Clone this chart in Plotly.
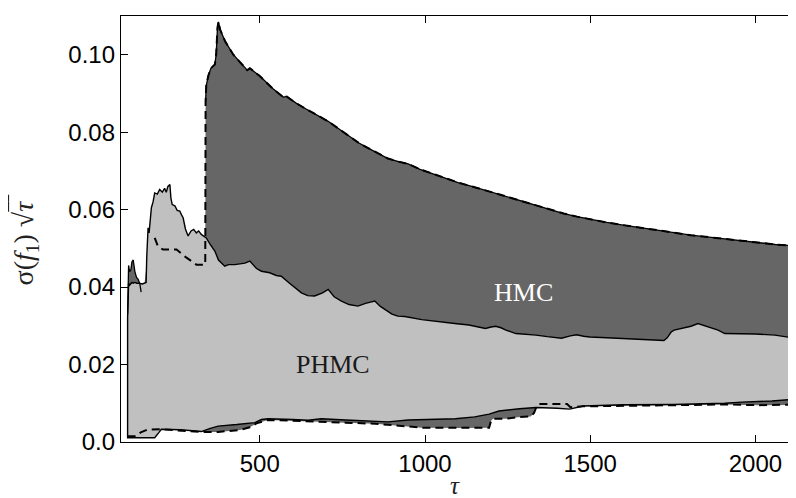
import plotly.graph_objects as go

# ---------------- data ----------------
x_tick_vals = [500, 1000, 1500, 2000]
x_tick_text = ["500", "1000", "1500", "2000"]
y_tick_vals = [0.0, 0.02, 0.04, 0.06, 0.08, 0.10]
y_tick_text = ["0.0", "0.02", "0.04", "0.06", "0.08", "0.10"]

# HMC upper bound, early solid piece
hmc_early_tau = [100, 101, 103, 106, 110, 113, 117, 122, 127, 132, 137, 141]
hmc_early_val = [0.0330, 0.0440, 0.0456, 0.0440, 0.0445, 0.0465, 0.0470, 0.0440, 0.0425, 0.0420, 0.0408, 0.0387]

# HMC upper bound, dashed piece before the jump
hmc_dash_early_tau = [141, 150, 158, 165, 175, 182, 192, 207, 230, 248, 275, 308, 334]
hmc_dash_early_val = [0.0387, 0.0400, 0.0460, 0.0520, 0.0550, 0.0527, 0.0505, 0.0497, 0.0497, 0.0497, 0.0478, 0.0458, 0.0458]

# HMC upper bound after the jump (solid and dashed nearly coincide)
hmc_up_tau = [335, 336, 338, 344, 352, 364, 368, 372, 375, 380, 395, 420, 445, 462, 470,
              500, 540, 572, 580, 610, 640, 675, 707, 740, 770, 800, 828, 860, 888, 920,
              949, 985, 1021, 1060, 1100, 1150, 1194, 1230, 1270, 1310, 1347, 1385, 1420,
              1460, 1504, 1550, 1600, 1640, 1683, 1740, 1805, 1880, 1958, 2010, 2060, 2110, 2147]
hmc_up_val = [0.0458, 0.0880, 0.0920, 0.0945, 0.0965, 0.0975, 0.1000, 0.1070, 0.1085, 0.1065,
              0.1035, 0.1000, 0.0975, 0.0960, 0.0965, 0.0945, 0.0912, 0.0890, 0.0893, 0.0875,
              0.0860, 0.0843, 0.0828, 0.0808, 0.0790, 0.0772, 0.0759, 0.0745, 0.0732, 0.0724,
              0.0718, 0.0704, 0.0693, 0.0682, 0.0670, 0.0658, 0.0647, 0.0637, 0.0627, 0.0617,
              0.0608, 0.0598, 0.0590, 0.0582, 0.0574, 0.0567, 0.0560, 0.0555, 0.0549, 0.0541,
              0.0534, 0.0527, 0.0519, 0.0514, 0.0510, 0.0507, 0.0505]

# HMC lower bound (dashed)
hmc_low_tau = [100, 125, 140, 160, 200, 260, 320, 374, 440, 470, 490, 525, 646, 760, 850, 888,
               950, 990, 1100, 1194, 1200, 1206, 1245, 1280, 1320, 1330, 1336, 1345, 1430, 1440,
               1479, 1601, 1750, 1907, 2009, 2080, 2147]
hmc_low_val = [0.0015, 0.0015, 0.0025, 0.0032, 0.0033, 0.0030, 0.0026, 0.0026, 0.0031, 0.0038,
               0.0048, 0.0057, 0.0054, 0.0050, 0.0047, 0.0045, 0.0040, 0.0037, 0.0036, 0.0037,
               0.0055, 0.0060, 0.0060, 0.0064, 0.0066, 0.0075, 0.0088, 0.0098, 0.0098, 0.0090,
               0.0092, 0.0094, 0.0095, 0.0097, 0.0095, 0.0096, 0.0096]

# PHMC upper bound (solid)
phmc_up_tau = [100, 101, 103, 106, 110, 113, 117, 122, 128, 135, 145, 152, 156, 158, 162, 165,
               168, 172, 177, 182, 190, 197, 205, 212, 217, 222, 228, 231, 235, 243, 250, 258,
               264, 268, 275, 283, 292, 300, 308, 315, 323, 338, 350, 364, 375, 385, 394, 405,
               424, 440, 455, 470, 490, 505, 530, 550, 565, 590, 610, 626, 645, 666, 690, 707,
               725, 747, 770, 797, 820, 848, 865, 878, 900, 918, 939, 990, 1041, 1090, 1133,
               1160, 1183, 1200, 1214, 1230, 1245, 1275, 1300, 1336, 1370, 1398, 1413, 1440,
               1459, 1480, 1499, 1550, 1601, 1660, 1723, 1733, 1745, 1754, 1770, 1785, 1805,
               1826, 1840, 1856, 1875, 1887, 1907, 1958, 2000, 2059, 2090, 2127]
phmc_up_val = [0.0320, 0.0400, 0.0410, 0.0405, 0.0410, 0.0412, 0.0410, 0.0412, 0.0410, 0.0410,
               0.0408, 0.0410, 0.0412, 0.0480, 0.0553, 0.0540, 0.0580, 0.0605, 0.0620, 0.0643,
               0.0640, 0.0652, 0.0645, 0.0655, 0.0645, 0.0660, 0.0665, 0.0630, 0.0613, 0.0610,
               0.0598, 0.0596, 0.0585, 0.0579, 0.0550, 0.0532, 0.0545, 0.0549, 0.0540, 0.0545,
               0.0536, 0.0527, 0.0510, 0.0493, 0.0470, 0.0462, 0.0454, 0.0458, 0.0458, 0.0460,
               0.0462, 0.0467, 0.0448, 0.0441, 0.0437, 0.0430, 0.0428, 0.0410, 0.0395, 0.0385,
               0.0378, 0.0377, 0.0385, 0.0394, 0.0375, 0.0364, 0.0355, 0.0351, 0.0358, 0.0364,
               0.0350, 0.0342, 0.0330, 0.0325, 0.0324, 0.0316, 0.0310, 0.0306, 0.0302, 0.0298,
               0.0293, 0.0297, 0.0299, 0.0295, 0.0289, 0.0280, 0.0279, 0.0276, 0.0272, 0.0269,
               0.0268, 0.0274, 0.0277, 0.0273, 0.0271, 0.0269, 0.0267, 0.0265, 0.0262, 0.0269,
               0.0284, 0.0289, 0.0292, 0.0295, 0.0299, 0.0306, 0.0302, 0.0298, 0.0292, 0.0289,
               0.0280, 0.0280, 0.0279, 0.0276, 0.0272, 0.0267]

# PHMC lower bound (solid)
phmc_low_tau = [100, 182, 195, 202, 260, 323, 350, 374, 430, 485, 505, 525, 600, 646, 686, 760,
                848, 888, 949, 990, 1092, 1150, 1194, 1224, 1286, 1336, 1400, 1438, 1479, 1601,
                1750, 1907, 1958, 2050, 2127]
phmc_low_val = [0.0011, 0.0011, 0.0025, 0.0033, 0.0032, 0.0027, 0.0035, 0.0041, 0.0045, 0.0050,
                0.0058, 0.0060, 0.0058, 0.0056, 0.0060, 0.0057, 0.0054, 0.0052, 0.0057, 0.0059,
                0.0060, 0.0065, 0.0072, 0.0080, 0.0086, 0.0089, 0.0087, 0.0085, 0.0093, 0.0096,
                0.0097, 0.0100, 0.0103, 0.0106, 0.0111]

# ---------------- figure ----------------
DARK = "#666666"
LIGHT = "#c0c0c0"

fig = go.Figure()

# HMC band
hmc_poly_x = hmc_early_tau + hmc_dash_early_tau[1:] + hmc_up_tau + hmc_low_tau[::-1]
hmc_poly_y = hmc_early_val + hmc_dash_early_val[1:] + hmc_up_val + hmc_low_val[::-1]
fig.add_trace(go.Scatter(x=hmc_poly_x, y=hmc_poly_y, fill="toself", fillcolor=DARK,
                         mode="lines", line=dict(width=0), hoverinfo="skip", showlegend=False))

# PHMC band (outlined)
phmc_poly_x = phmc_up_tau + phmc_low_tau[::-1] + [phmc_up_tau[0]]
phmc_poly_y = phmc_up_val + phmc_low_val[::-1] + [phmc_up_val[0]]
fig.add_trace(go.Scatter(x=phmc_poly_x, y=phmc_poly_y, fill="toself", fillcolor=LIGHT,
                         mode="lines", line=dict(color="black", width=1.4),
                         hoverinfo="skip", showlegend=False))

# HMC solid upper lines
fig.add_trace(go.Scatter(x=hmc_early_tau + [None] + hmc_up_tau[1:],
                         y=hmc_early_val + [None] + hmc_up_val[1:],
                         mode="lines", line=dict(color="black", width=1.3),
                         connectgaps=False, hoverinfo="skip", showlegend=False))
# HMC dashed upper
fig.add_trace(go.Scatter(x=hmc_dash_early_tau[5:] + hmc_up_tau,
                         y=hmc_dash_early_val[5:] + hmc_up_val,
                         mode="lines", line=dict(color="black", width=2, dash="8px,5px"),
                         hoverinfo="skip", showlegend=False))
# HMC dashed lower
fig.add_trace(go.Scatter(x=hmc_low_tau, y=hmc_low_val,
                         mode="lines", line=dict(color="black", width=2, dash="8px,5px"),
                         hoverinfo="skip", showlegend=False))

fig.add_annotation(x=1297, y=0.0385, text="HMC", showarrow=False,
                   font=dict(family="Liberation Serif", size=26, color="white"))
fig.add_annotation(x=721, y=0.0200, text="PHMC", showarrow=False,
                   font=dict(family="Liberation Serif", size=26, color="#1a1a1a"))

# axis titles
fig.add_annotation(xref="paper", yref="paper", x=-0.140, y=0.474, xanchor="center", yanchor="middle",
                   text="σ(<i>f</i><sub>1</sub>) √<span style='text-decoration:overline'><i>τ</i> </span>",
                   textangle=-90, showarrow=False,
                   font=dict(family="Liberation Serif", size=28, color="#222222"))
fig.add_annotation(xref="paper", yref="paper", x=0.489, y=-0.136, xanchor="center", yanchor="bottom",
                   text="<i>τ</i>", showarrow=False, borderpad=0,
                   font=dict(family="Liberation Serif", size=25, color="#222222"))

fig.update_xaxes(range=[80, 2147], tickvals=x_tick_vals, ticktext=x_tick_text,
                 ticks="inside", ticklen=7, tickwidth=1, tickcolor="black",
                 showline=True, linecolor="black", linewidth=1.3, mirror="ticks",
                 showgrid=False, zeroline=False,
                 tickfont=dict(family="Liberation Sans", size=24, color="black"))
fig.update_yaxes(range=[0, 0.110], tickvals=y_tick_vals, ticktext=y_tick_text,
                 ticks="inside", ticklen=7, tickwidth=1, tickcolor="black",
                 showline=True, linecolor="black", linewidth=1.3, mirror=False,
                 showgrid=False, zeroline=False,
                 tickfont=dict(family="Liberation Sans", size=24, color="black"))

fig.update_layout(width=796, height=498, margin=dict(l=113, r=0, t=8, b=64),
                  paper_bgcolor="white", plot_bgcolor="white", showlegend=False)

fig.write_html("out.html")
